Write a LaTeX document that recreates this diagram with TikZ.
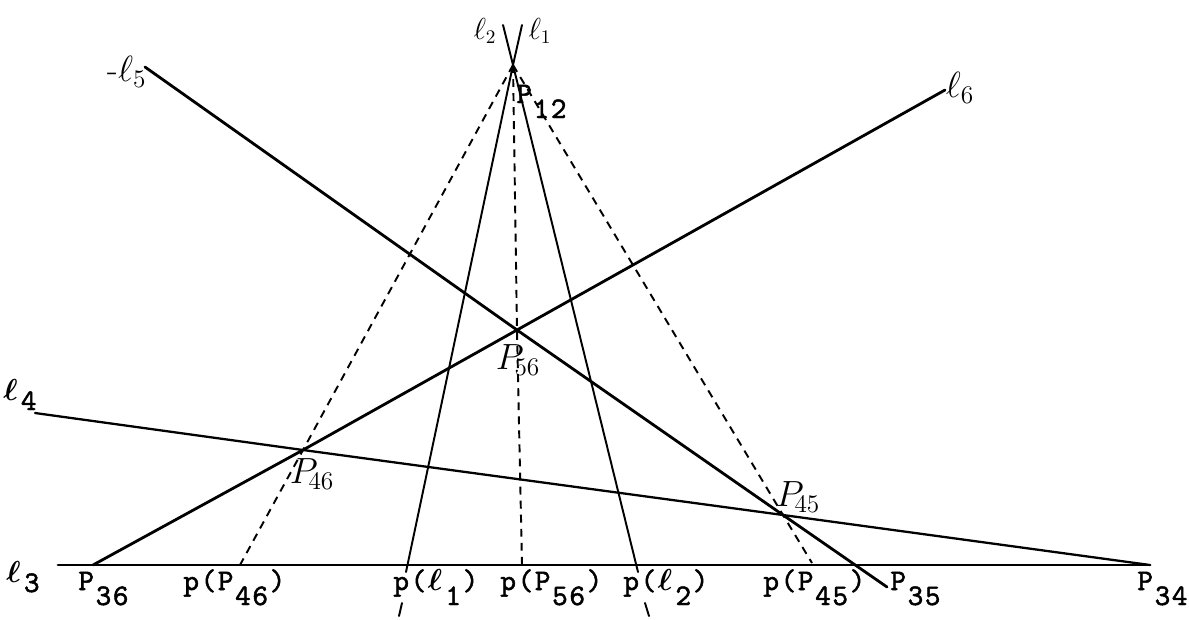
\documentclass[tikz,border=0pt]{standalone}
\usepackage{amsmath}
\usepackage{fontspec}
\newfontfamily\twf{lmmono10-regular.otf}[FakeBold=1.6]
\newcommand\lowr[1]{\raisebox{-0.3cm}{#1}}
\newcommand\ks{\kern0.9pt}
\begin{document}
\begin{tikzpicture}[x=0.02cm,y=-0.02cm,
  thickln/.style={line width=1.6pt, line cap=round},
  midln/.style={line width=1.3pt, line cap=round},
  thinln/.style={line width=1.1pt, line cap=round},
  dashln/.style={line width=1.1pt, dash pattern=on 4.5pt off 3.5pt},
  tw/.style={font=\fontsize{17}{17}\twf, inner sep=0pt, anchor=base west},
  hw/.style={font=\fontsize{20}{20}\selectfont, inner sep=0pt},
  hws/.style={font=\fontsize{16}{16}\selectfont, inner sep=0pt}]
\useasboundingbox (0,0) rectangle (1189,619);
% points
\coordinate (P12) at (513,65);
\coordinate (l1top) at (522,25);
\coordinate (l2top) at (503,25);
\coordinate (pl1e) at (406,572);
\coordinate (pl2e) at (638,572);
\coordinate (t1a) at (402,603);
\coordinate (t1b) at (399,616);
\coordinate (t2a) at (645,603);
\coordinate (t2b) at (649,616);
\coordinate (l3a) at (58,565);
\coordinate (P34) at (1150,565);
\coordinate (P36) at (93,565);
\coordinate (l6end) at (945,90);
\coordinate (l5a) at (145,67);
\coordinate (l5b) at (887,587);
\coordinate (l4a) at (35,413);
\coordinate (P56) at (517,330);
\coordinate (P46) at (303,450);
\coordinate (P45) at (783,515);
\coordinate (pP46) at (240,565);
\coordinate (pP56) at (522,565);
\coordinate (pP45) at (812,563);
% lines
\draw[thickln] (l3a) -- (P34);
\draw[thickln] (P36) -- (P46) -- (P56) -- (l6end);
\draw[thickln] (l5a) -- (P56) -- (P45) -- (l5b);
\draw[midln] (l4a) -- (P46) -- (P45) -- (P34);
\draw[thinln] (l1top) -- (P12) -- (pl1e);
\draw[thinln] (l2top) -- (P12) -- (pl2e);
\draw[thinln] (t1a) -- (t1b);
\draw[thinln] (t2a) -- (t2b);
\draw[dashln] (P12) -- (P46) -- (pP46);
\draw[dashln] (P12) -- (P56) -- (pP56);
\draw[dashln] (P12) -- (P45) -- (pP45);
% typed labels
\node[tw] (tP12) at (516,103) {P\ks\lowr{1\ks2}};
\node[tw] (tl3) at (6,582) {$\boldsymbol{\ell}$\ks\ks\raisebox{-0.2cm}{3}};
\node[tw] (tl4) at (3,400) {$\boldsymbol{\ell}$\ks\ks\raisebox{-0.2cm}{4}};
\node[tw] (tP36) at (78,590) {P\ks\lowr{3\ks6}};
\node[tw] (tpP46) at (183,590) {p\ks(\ks P\ks\lowr{4\ks6}\ks)};
\node[tw] (tpl1) at (393,590) {p\ks(\ks$\boldsymbol{\ell}$\ks\ks\lowr{1}\ks)};
\node[tw] (tpP56) at (500,590) {p\ks(\ks P\ks\lowr{5\ks6}\ks)};
\node[tw] (tpl2) at (623,590) {p\ks(\ks$\boldsymbol{\ell}$\ks\ks\lowr{2}\ks)};
\node[tw] (tpP45) at (763,590) {p\ks(\ks P\ks\lowr{4\ks5}\ks)};
\node[tw] (tP35) at (890,590) {P\ks\lowr{3\ks5}};
\node[tw] (tP34) at (1137,590) {P\ks\lowr{3\ks4}};
% handwritten labels
\node[hws] (hl2) at (485,31) {$\ell_2$};
\node[hws] (hl1) at (540,31) {$\ell_1$};
\node[hw] (hl5) at (127,72) {-$\ell_5$};
\node[hw] (hl6) at (960,88) {$\ell_6$};
\node[hw] (hP56) at (518,360) {$P_{\!56}$};
\node[hw] (hP46) at (312,474) {$P_{\!46}$};
\node[hw] (hP45) at (798,497) {$P_{\!45}$};
\end{tikzpicture}
\end{document}
